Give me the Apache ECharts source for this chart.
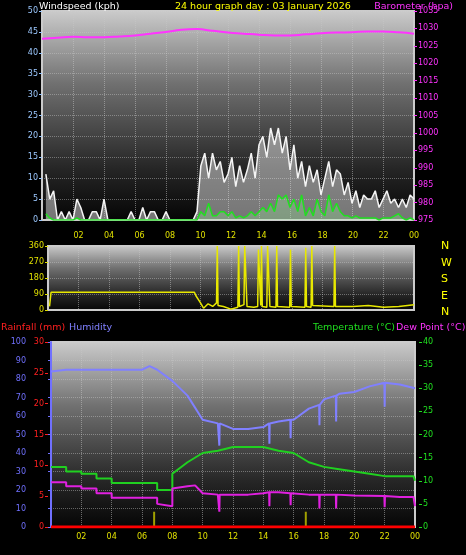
<!DOCTYPE html>
<html><head><meta charset="utf-8">
<script src="https://cdn.jsdelivr.net/npm/echarts@6/dist/echarts.min.js"></script>
<style>html,body{margin:0;background:#000}#chart{width:466px;height:555px}</style>
</head><body><div id="chart"></div>
<script>
// wind, 15 min steps
const windTimes = [];
for (let i = 0; i < 96; i++) windTimes.push(0.25 + i * 0.25);
const windGust = [11,5,7,0, 2,0,2,0, 5,3,0,0, 2,2,0,5, 0,0,0,0, 0,0,2,0, 0,3,0,2, 2,0,0,2, 0,0,0,0, 0,0,0,2,
  13,16,10,16, 12,14,9,11, 15,8,13,9, 12,16,10,18, 20,15,22,18, 22,16,20,12, 18,10,14,8, 13,9,12,6,
  10,14,8,12, 11,6,9,4, 7,3,6,5, 5,7,3,5, 7,4,5,3, 5,3,6,5];
const windAvg = [1.5,0.5,0,0, 0,0,0,0, 0.5,0,0,0, 0,0,0,0, 0,0,0,0, 0,0,0,0, 0,0,0,0, 0,0,0,0, 0,0,0,0, 0,0,0,0,
  2,1,4,1, 1,2,2,1, 2,0.5,1,0.5, 1,2,1,2, 3,2,4,2, 6,5,6,3, 5,2,6,1, 3,1,5,2,
  1,6,2,4, 2,1,1,0.5, 1,0.5,0.5,0.5, 0.5,0.5,0,0.5, 0.5,0.5,1,1.5, 0.5,0,0.5,0];
const baroTimes = [0,1,2,3,4,5,6,7,8,9,10,11,12,13,14,15,16,17,18,19,20,21,22,23,24];
const baro = [1027,1027.3,1027.6,1027.5,1027.5,1027.7,1028,1028.5,1029,1029.6,1029.8,1029.3,1028.8,1028.5,1028.2,1028,1028,1028.3,1028.6,1028.8,1028.9,1029.1,1029.1,1028.9,1028.5];
// wind direction
const dirTimes = [0.1,0.2,5,9.6,9.7,10,10.2,10.5,10.8,11.05,11.1,11.15,11.5,12,12.45,12.5,12.55,12.85,12.9,13.0,13.05,13.5,13.75,13.8,13.95,14.0,14.05,14.35,14.4,14.5,14.55,14.95,15.0,15.05,15.85,15.9,15.95,16.85,16.9,16.95,17.25,17.3,17.35,18.75,18.8,18.85,20,21,22,23,24];
const dirVals = [20,100,100,100,80,40,10,35,20,40,360,25,20,5,15,360,20,30,360,360,20,15,20,340,25,360,20,15,360,360,20,15,360,20,15,340,20,15,350,20,15,360,25,20,360,20,20,25,15,20,30];
const dirLabels = ['N','W','S','E','N'];
// bottom panel
const humTimes = [0,1,2,3,4,5,6,6.5,7,8,9,10,11,11.08,11.1,11.12,12,13,14,14.38,14.4,14.42,15,15.78,15.8,15.82,16,17,17.68,17.7,17.72,18,18.78,18.8,18.82,19,20,21,21.98,22,22.02,23,24];
const hum = [84,85,85,85,85,85,85,87,85,79,71,58,56,56,44,56,53,53,54,56,45,56,57,58,48,58,58,64,66,55,66,69,71,57,71,72,73,76,78,65,78,77,75];
const tempTimes = [0,1,1,2,2,3,3,4,4,7,7,8,8,9,10,11,12,13,14,15,16,17,18,19,20,21,22,23,23.9,24];
const temp = [13,13,12,12,11.5,11.5,10.5,10.5,9.5,9.5,8,8,11.5,14,16,16.5,17.3,17.3,17.3,16.5,16,14,13,12.5,12,11.5,11,11,11,10];
const dewTimes = [0,1,1,2,2,3,3,4,4,7,7,8,8,9,9.5,10,11,11.08,11.1,11.12,12,13,14,14.38,14.4,14.42,15,15.78,15.8,15.82,17,17.68,17.7,17.72,18.78,18.8,18.82,20,21.98,22,22.02,23,23.9,24];
const dew = [9.7,9.7,8.8,8.8,8.3,8.3,7.3,7.3,6.3,6.3,5,4.5,8.3,8.8,9,7.3,7,7,3.3,7,7,7,7.3,7.5,4.5,7.5,7.5,7.3,4.7,7.3,7,7,4,7,7,4,7,6.8,6.7,4.3,6.7,6.5,6.5,4.5];
const rainTimes = [0,24];
const rain = [0,0];
const markTimes = [6.8,16.8];
const markVals = [3.3,3.3];

const zip = (t, v) => t.map((x, i) => [x, v[i]]);
const bg = { type: 'linear', x: 0, y: 0, x2: 0, y2: 1,
  colorStops: [{ offset: 0, color: '#cccccc' }, { offset: 0.35, color: '#707070' }, { offset: 0.75, color: '#262626' }, { offset: 1, color: '#050505' }] };
const fs = 8, ff = 'DejaVu Sans';
const hourLabel = v => (v === 0 ? '' : String(v % 24).padStart(2, '0'));
const xAx = (g, show) => ({ type: 'value', gridIndex: g, min: 0, max: 24, interval: 2,
  axisLine: { show: false }, axisTick: { show: false },
  axisLabel: { show: show, color: '#e0e000', fontSize: fs, fontFamily: ff, formatter: hourLabel, margin: 6 },
  splitLine: { lineStyle: { color: 'rgba(200,200,200,0.5)', type: 'dotted' } } });
const yAx = (g, min, max, iv, color, pos, off, split) => ({ type: 'value', gridIndex: g, min, max, interval: iv,
  position: pos, offset: off,
  axisLine: { show: off > 5, lineStyle: { color: color, width: 2 } },
  axisTick: { show: true, length: 3, lineStyle: { color: color } },
  axisLabel: { color: color, fontSize: fs, fontFamily: ff, margin: 4, formatter: v => String(v) },
  splitLine: { show: split, lineStyle: { color: 'rgba(200,200,200,0.45)', type: 'dotted' } } });
const ttl = (text, color, pos) => Object.assign({ text, textStyle: { color, fontSize: 9.5, fontWeight: 'normal', fontFamily: ff } }, pos);

const chart = echarts.init(document.getElementById('chart'));
chart.setOption({
  backgroundColor: '#000',
  animation: false,
  title: [
    ttl('Windspeed (kph)', '#fff', { left: 34, top: -3 }),
    ttl('24 hour graph day : 03 January 2026', '#ffff00', { left: 170, top: -3 }),
    ttl('Barometer (hpa)', '#ff33ff', { right: 8, top: -3 }),
    ttl('Rainfall (mm)', '#ff2020', { left: -4, top: 318 }),
    ttl('Humidity', '#8080ff', { left: 64, top: 318 }),
    ttl('Temperature (°C)', '#20e020', { left: 308, top: 318 }),
    ttl('Dew Point (°C)', '#ff33ff', { left: 391, top: 318 })
  ].concat(dirLabels.map((s, i) => ({ text: s, left: 436, top: 236 + i * 16.5,
    textStyle: { color: '#ffff00', fontSize: 11, fontWeight: 'normal', fontFamily: ff } }))),
  grid: [
    { left: 42, right: 52, top: 11, height: 209, show: true, backgroundColor: bg, borderColor: '#ccc', borderWidth: 2 },
    { left: 48, right: 52, top: 246, height: 64, show: true, backgroundColor: bg, borderColor: '#ccc', borderWidth: 2 },
    { left: 51, right: 51, top: 342, height: 185, show: true, backgroundColor: bg, borderColor: '#ccc', borderWidth: 2 }
  ],
  xAxis: [xAx(0, false), Object.assign(xAx(1, true), { position: 'top' }), xAx(2, true)],
  yAxis: [
    yAx(0, 0, 50, 5, '#9cc8ff', 'left', 0, true),
    yAx(0, 975, 1035, 5, '#ff33ff', 'right', 0, false),
    yAx(1, 0, 360, 90, '#e0e000', 'left', 0, true),
    yAx(2, 0, 100, 10, '#7070ff', 'left', 21, true),
    yAx(2, 0, 30, 5, '#ff2020', 'left', 3, false),
    yAx(2, 0, 40, 5, '#20e020', 'right', 4, false)
  ],
  series: [
    { type: 'line', xAxisIndex: 0, yAxisIndex: 0, data: zip(windTimes, windGust), symbol: 'none',
      lineStyle: { color: '#f4f4f4', width: 1.5 }, areaStyle: { color: 'rgba(235,235,235,0.7)' } },
    { type: 'line', xAxisIndex: 0, yAxisIndex: 0, data: zip(windTimes, windAvg), symbol: 'none',
      lineStyle: { color: '#20e020', width: 1.5 }, areaStyle: { color: 'rgba(150,230,150,0.45)' } },
    { type: 'line', xAxisIndex: 0, yAxisIndex: 1, data: zip(baroTimes, baro), smooth: true, symbol: 'none',
      lineStyle: { color: '#ff33ff', width: 2 } },
    { type: 'line', xAxisIndex: 1, yAxisIndex: 2, data: zip(dirTimes, dirVals), symbol: 'none',
      lineStyle: { color: '#e8e800', width: 1.5 } },
    { type: 'line', xAxisIndex: 2, yAxisIndex: 3, data: zip(humTimes, hum), symbol: 'none',
      lineStyle: { color: '#8080ff', width: 2 } },
    { type: 'line', xAxisIndex: 2, yAxisIndex: 5, data: zip(tempTimes, temp), symbol: 'none',
      lineStyle: { color: '#20d020', width: 2 } },
    { type: 'line', xAxisIndex: 2, yAxisIndex: 5, data: zip(dewTimes, dew), symbol: 'none',
      lineStyle: { color: '#e020e0', width: 2 } },
    { type: 'line', xAxisIndex: 2, yAxisIndex: 4, data: zip(rainTimes, rain), symbol: 'none',
      lineStyle: { color: '#ff0000', width: 3 } },
    { type: 'bar', xAxisIndex: 2, yAxisIndex: 5, data: zip(markTimes, markVals), barWidth: 2,
      itemStyle: { color: '#a0a000' } }
  ]
});
</script></body></html>
